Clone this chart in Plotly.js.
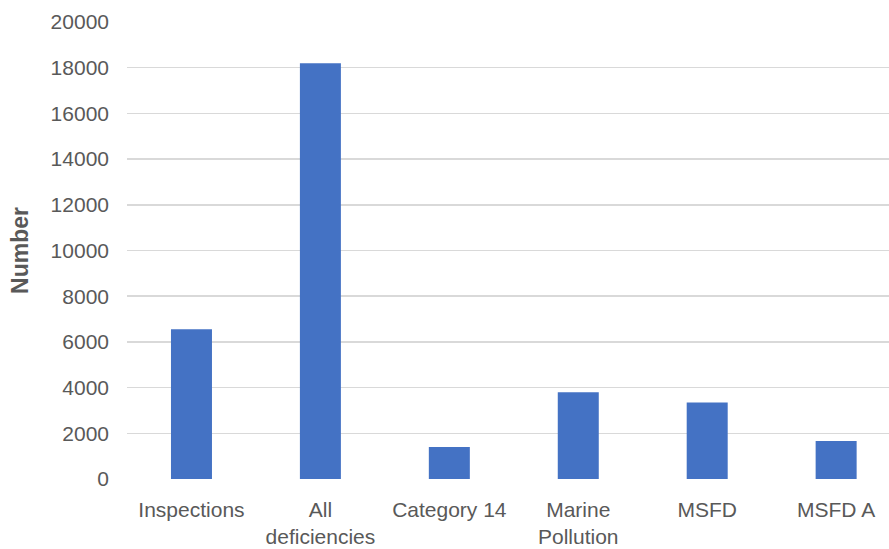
<!DOCTYPE html>
<html>
<head>
<meta charset="utf-8">
<script src="https://cdn.plot.ly/plotly-3.0.1.min.js"></script>
<style>html,body{margin:0;padding:0;background:#fff;}#chart{width:889px;height:549px;}</style>
</head>
<body>
<div id="chart"></div>
<script>
const categories = ["Inspections", "All deficiencies", "Category 14", "Marine Pollution", "MSFD", "MSFD A"];
const tickLabels = ["Inspections", "All<br>deficiencies", "Category 14", "Marine<br>Pollution", "MSFD", "MSFD A"];
const values = [6550, 18200, 1400, 3800, 3350, 1660];
const yTicks = [0, 2000, 4000, 6000, 8000, 10000, 12000, 14000, 16000, 18000, 20000];

const font = "Liberation Sans, Arial, sans-serif";
const trace = {
  type: "bar",
  x: categories,
  y: values,
  marker: {color: "#4472C4"},
  hoverinfo: "x+y"
};
const layout = {
  width: 889, height: 549,
  margin: {l: 127, r: 0, t: 22, b: 70},
  paper_bgcolor: "#ffffff", plot_bgcolor: "#ffffff",
  bargap: 0.682,
  showlegend: false,
  font: {family: font, color: "#595959", size: 21},
  xaxis: {
    type: "category",
    range: [-0.5, 5.41],
    tickvals: categories,
    ticktext: tickLabels,
    showgrid: false, zeroline: false, showline: false,
    ticks: "",
    ticklabelstandoff: 16,
    tickfont: {family: font, size: 21, color: "#595959"}
  },
  yaxis: {
    range: [0, 20000],
    tickvals: yTicks,
    ticktext: yTicks.map(String),
    showgrid: true, gridcolor: "#d9d9d9", gridwidth: 1.5,
    zeroline: false, showline: false, ticks: "",
    ticklabelstandoff: 17,
    tickfont: {family: font, size: 21, color: "#595959"},
    title: {text: "<b>Number</b>", font: {family: font, size: 23, color: "#595959"}, standoff: 15}
  }
};
Plotly.newPlot("chart", [trace], layout, {displayModeBar: false, staticPlot: true});
</script>
</body>
</html>
